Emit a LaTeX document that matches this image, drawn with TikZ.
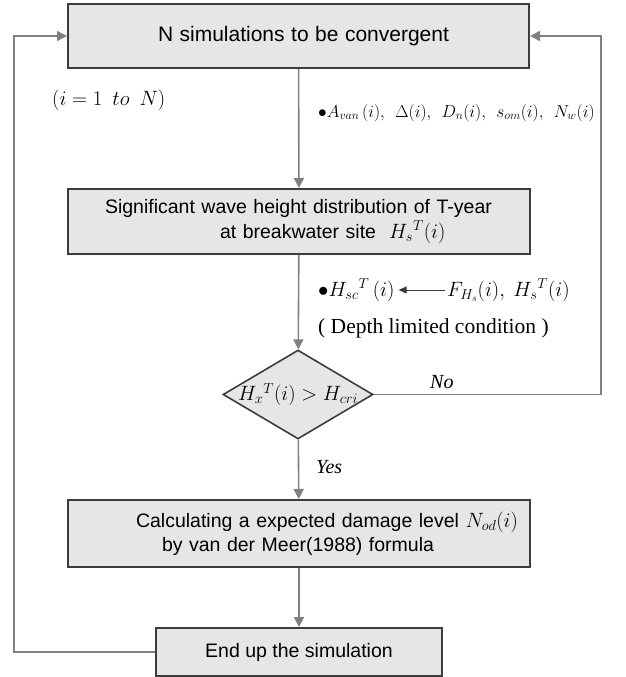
\documentclass[tikz,border=0pt]{standalone}
\usepackage{fontspec}
\setmainfont{Liberation Serif}
\setsansfont{Liberation Sans}
\usepackage{tikz}
\usetikzlibrary{calc,positioning,shapes.geometric,arrows.meta}

\definecolor{boxgray}{RGB}{230,230,230}
\definecolor{linegray}{RGB}{128,128,128}
\definecolor{edgegray}{RGB}{60,60,60}

\begin{document}
\begin{tikzpicture}[x=1pt, y=-1pt]
\tikzstyle{every node}=[inner sep=0pt]
\tikzstyle{stage}=[draw=edgegray, line width=2pt, fill=boxgray,
                   font=\sffamily\fontsize{19.5}{24.5}\selectfont]
\tikzstyle{decision}=[diamond, draw=edgegray, line width=1.6pt, fill=boxgray,
                      minimum width=150pt, minimum height=89pt]
\tikzstyle{flow}=[draw=linegray, line width=1.6pt,
                  -{Triangle[length=10pt,width=10pt]}, linegray]
\tikzstyle{note}=[font=\fontsize{20}{23}\selectfont]
\useasboundingbox (0,0) rectangle (625,677);

% boxes
\node[stage, text width=461pt, minimum height=64pt, align=left] (conv) at (298.5,36)
  {\hspace*{90pt}{\fontsize{21}{24}\selectfont N simulations to be convergent}};
\node[stage, text width=462pt, minimum height=65pt, align=left] (dist) at (299,221.5)
  {\hspace*{37pt}Significant wave height distribution of T-year\\
   \hspace*{152pt}at breakwater site \ $H_{s}{}^{T}(i)$};
\node[decision] (chk) at (298,394.5) {};
\node[note] (chktxt) at (chk.center) {$H_{x}{}^{T}(i) > H_{cri}$};
\node[stage, text width=462pt, minimum height=67pt, align=left] (calc) at (299,533.5)
  {\hspace*{68pt}Calculating a expected damage level $N_{od}(i)$\\
   \hspace*{94pt}by van der Meer(1988) formula};
\node[stage, minimum width=286pt, minimum height=48pt] (finish) at (299,652)
  {End up the simulation};

% side notes
\node[note, anchor=west] (range) at (52,100) {$(i=1\ \ to\ \ N)$};
\node[note, anchor=west, font=\fontsize{18.5}{22}\selectfont] (params) at (318,113)
  {$\bullet A_{van}\,(i),\ \,\Delta(i),\ \,D_{n}(i),\ \,s_{om}(i),\ \,N_{w}(i)$};
\node[note, anchor=west] (hsc) at (318,290) {$\bullet H_{sc}{}^{T}\,(i)$};
\node[note, anchor=west] (fhs) at (447,290) {$F_{H_{s}}(i),\ H_{s}{}^{T}(i)$};
\node[note, anchor=west, font=\fontsize{21.5}{24}\selectfont] (depth) at (318,328)
  {( Depth limited condition )};
\node[note, anchor=west] (no) at (430,382) {\textit{No}};
\node[note, anchor=west] (yes) at (316,467) {\textit{Yes}};

\draw[flow] (conv) -- (dist);
\draw[flow] (dist) -- (chk);
\draw[flow] (chk) -- (calc);
\draw[flow] (calc) -- (finish);
\draw[flow] (finish.west) -- ++(-141,0) |- (conv.west);
\draw[flow] (chk.east) -- ++(227,0) |- (conv.east);
\draw[flow, draw=edgegray, line width=1pt, -{Triangle[length=8pt,width=7pt]}]
  ([xshift=-2pt]fhs.west) -- ([xshift=4pt]hsc.east);

\end{tikzpicture}
\end{document}
